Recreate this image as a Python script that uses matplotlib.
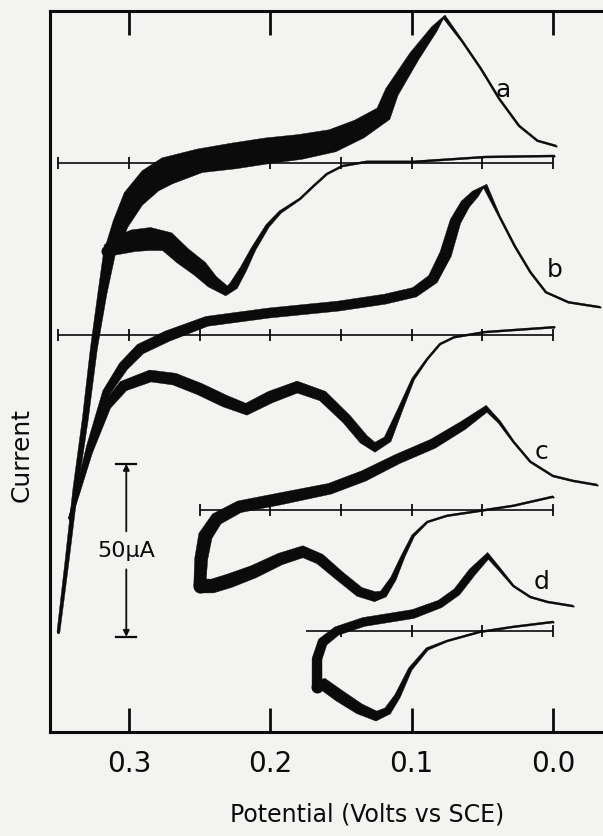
import numpy as np
import matplotlib.pyplot as plt
from matplotlib.patches import Polygon

# Cyclic voltammograms a-d.
# Potential in volts vs SCE, current in microamps relative to each trace's own zero line.

# trace a
a_fwd_E = [0.350, 0.344, 0.338, 0.331, 0.325, 0.319, 0.314, 0.306, 0.297, 0.285, 0.273, 0.250, 0.226, 0.202,
           0.179, 0.156, 0.137, 0.120, 0.114, 0.098, 0.084, 0.077, 0.064, 0.051, 0.038, 0.024, 0.011, -0.002]
a_fwd_I = [-135.5, -115.3, -94.2, -74.0, -53.8, -37.9, -26.3, -17.6, -10.4, -5.2, -2.3, 0.6, 2.0, 3.5,
           4.6, 6.4, 9.8, 14.2, 20.5, 30.9, 38.7, 42.2, 35.0, 27.2, 18.5, 10.7, 6.4, 4.9]
a_rev_E = [-0.001, 0.048, 0.099, 0.132, 0.149, 0.160, 0.170, 0.179, 0.193, 0.202, 0.212, 0.219, 0.226, 0.231,
           0.241, 0.250, 0.262, 0.273, 0.285, 0.297, 0.309, 0.316]
a_rev_I = [2.0, 1.7, 0.3, 0.3, -0.9, -3.2, -6.9, -10.4, -14.2, -18.2, -24.9, -30.6, -35.5, -37.0,
           -34.4, -30.6, -26.9, -22.8, -22.0, -22.5, -24.0, -25.4]

# trace b
b_fwd_E = [0.342, 0.337, 0.328, 0.316, 0.304, 0.292, 0.273, 0.245, 0.201, 0.152, 0.119, 0.098, 0.085, 0.076,
           0.069, 0.062, 0.055, 0.048, 0.038, 0.027, 0.016, 0.005, -0.011, -0.033]
b_fwd_I = [-53.2, -46.0, -32.1, -16.5, -9.0, -4.0, -0.3, 4.0, 6.4, 8.4, 10.4, 12.4, 16.2, 23.4,
           32.9, 37.9, 40.8, 43.1, 34.4, 25.7, 18.2, 12.4, 9.5, 8.1]
b_rev_E = [-0.001, 0.048, 0.070, 0.080, 0.089, 0.099, 0.108, 0.117, 0.126, 0.134, 0.146, 0.163, 0.181, 0.200,
           0.217, 0.232, 0.250, 0.268, 0.285, 0.304, 0.316, 0.328, 0.337, 0.342]
b_rev_I = [2.3, 0.9, -0.6, -2.6, -6.9, -12.7, -21.4, -30.1, -32.4, -30.1, -24.3, -17.6, -15.0, -17.9,
           -21.4, -19.1, -15.6, -12.7, -11.8, -14.7, -20.5, -33.8, -46.5, -53.2]

# trace c
c_fwd_E = [0.250, 0.249, 0.246, 0.238, 0.222, 0.193, 0.158, 0.134, 0.110, 0.085, 0.064, 0.047, 0.038, 0.028,
           0.016, 0.000, -0.014, -0.031]
c_fwd_I = [-22.0, -14.2, -7.5, -2.6, 0.9, 3.2, 6.1, 9.8, 14.7, 19.1, 24.3, 29.2, 25.4, 19.7,
           13.9, 9.8, 8.4, 7.2]
c_rev_E = [0.000, 0.028, 0.052, 0.075, 0.089, 0.099, 0.106, 0.113, 0.120, 0.126, 0.137, 0.151, 0.165, 0.177,
           0.193, 0.212, 0.229, 0.241, 0.250]
c_rev_I = [3.8, 1.2, -0.3, -1.7, -3.5, -7.5, -13.3, -19.9, -24.3, -25.1, -23.7, -19.1, -14.2, -12.1,
           -14.2, -17.9, -20.5, -22.0, -22.0]

# trace d
d_fwd_E = [0.167, 0.167, 0.163, 0.153, 0.134, 0.099, 0.080, 0.068, 0.057, 0.046, 0.038, 0.028, 0.016, 0.004, -0.014]
d_fwd_I = [-16.2, -8.1, -3.2, 0.0, 2.6, 4.9, 7.8, 11.3, 17.1, 21.7, 17.9, 13.0, 9.8, 8.4, 7.2]
d_rev_E = [0.000, 0.028, 0.052, 0.075, 0.089, 0.101, 0.110, 0.117, 0.125, 0.137, 0.151, 0.163, 0.167]
d_rev_I = [2.6, 1.2, -0.3, -2.9, -5.2, -11.0, -18.8, -23.1, -24.6, -22.5, -18.8, -15.3, -16.2]

labels = ['a', 'b', 'c', 'd']
zero_start = [0.35, 0.35, 0.25, 0.175]     # left end of each zero line (V)
xtick_vals = [0.3, 0.2, 0.1, 0.0]
xtick_text = ['0.3', '0.2', '0.1', '0.0']
scale_ua = 50

# ---- layout / style ----
INK = '#0b0b0b'
PAPER = '#f3f3f1'
offsets = [164.5, 114.7, 64.2, 29.2]         # where each zero line sits (uA from bottom)
label_pos = [(0.035, 185.8), (-0.001, 133.8), (0.008, 81.2), (0.008, 43.6)]

# pen widths in pixels (the traces are several overlapping sweeps)
a_fwd_w = [3, 4, 5, 6, 7, 9, 12, 16, 22, 26, 28, 24, 26, 26, 25, 23, 20, 17, 14, 11, 7, 4, 2, 2, 2, 2, 2, 2]
a_rev_w = [2, 2, 2, 2, 2, 2, 2, 2, 3, 4, 5, 7, 9, 10, 13, 17, 18, 20, 23, 22, 18, 12]
b_fwd_w = [3, 4, 6, 8, 10, 11, 11, 10, 10, 10, 10, 10, 11, 12, 11, 10, 8, 5, 2, 2, 2, 2, 2, 2]
b_rev_w = [2, 2, 2, 2, 2, 3, 5, 8, 10, 10, 10, 11, 12, 12, 12, 12, 12, 12, 12, 11, 9, 6, 4, 3]
c_fwd_w = [12, 13, 14, 13, 12, 12, 11, 11, 10, 10, 9, 7, 3, 2, 2, 2, 2, 2]
c_rev_w = [2, 2, 2, 2, 2, 3, 4, 6, 8, 10, 10, 10, 11, 12, 12, 13, 14, 14, 14]
d_fwd_w = [10, 10, 10, 9, 9, 9, 8, 8, 8, 7, 3, 2, 2, 2, 2]
d_rev_w = [2, 2, 2, 2, 3, 4, 6, 8, 10, 11, 12, 12, 12]

traces = [
    [(a_fwd_E, a_fwd_I, a_fwd_w), (a_rev_E, a_rev_I, a_rev_w)],
    [(b_fwd_E, b_fwd_I, b_fwd_w), (b_rev_E, b_rev_I, b_rev_w)],
    [(c_fwd_E, c_fwd_I, c_fwd_w), (c_rev_E, c_rev_I, c_rev_w)],
    [(d_fwd_E, d_fwd_I, d_fwd_w), (d_rev_E, d_rev_I, d_rev_w)],
]


def pen(ax, E, I, off, w_px):
    # a band of varying width around the trace, built in pixel space
    xy = ax.transData.transform(np.column_stack([np.asarray(E), np.asarray(I) + off]))
    d = np.gradient(xy, axis=0)
    n = np.column_stack([-d[:, 1], d[:, 0]])
    n /= np.linalg.norm(n, axis=1)[:, None]
    h = 0.5 * np.asarray(w_px, float)[:, None]
    outline = np.vstack([xy + n * h, (xy - n * h)[::-1]])
    ax.add_patch(Polygon(ax.transData.inverted().transform(outline), closed=True,
                         fc=INK, ec=INK, lw=0.3, joinstyle='round'))
    ax.plot(E, np.asarray(I) + off, color=INK, lw=1.0, solid_joinstyle='round')
    for k in (0, -1):
        ax.plot(E[k], I[k] + off, 'o', color=INK, ms=w_px[k] * 0.72, mew=0)


fig = plt.figure(figsize=(6.03, 8.37), dpi=100, facecolor=PAPER)
ax = fig.add_axes([50 / 603, 104 / 837, 553 / 603, 721 / 837])
ax.set_facecolor(PAPER)
ax.set_xlim(0.356, -0.0354)
ax.set_ylim(0, 208.4)

for sweeps, off in zip(traces, offsets):
    for E, I, w in sweeps:
        pen(ax, E, I, off, w)

# zero lines with 50 mV ticks
for start, off in zip(zero_start, offsets):
    ax.plot([start, 0.0], [off, off], color=INK, lw=1.2, solid_capstyle='butt')
    ticks = np.round(np.arange(0.0, start + 1e-6, 0.05), 3)
    ax.vlines(ticks, off - 1.8, off + 1.8, color=INK, lw=1.3)

for lab, (x, y) in zip(labels, label_pos):
    ax.text(x, y, lab, fontsize=18, color=INK, ha='center', va='center')

# 50 uA scale bar
bar_x = 0.302
bar_lo = 27.5
bar_hi = bar_lo + scale_ua
mid = 0.5 * (bar_lo + bar_hi)
arrow = dict(arrowstyle='-|>', lw=1.3, color=INK, mutation_scale=9, shrinkA=0, shrinkB=0)
ax.annotate('', xy=(bar_x, bar_hi), xytext=(bar_x, mid + 5.5), arrowprops=arrow)
ax.annotate('', xy=(bar_x, bar_lo), xytext=(bar_x, mid - 5.5), arrowprops=arrow)
for yy in (bar_lo, bar_hi):
    ax.plot([bar_x + 0.007, bar_x - 0.007], [yy, yy], color=INK, lw=1.6)
ax.text(bar_x, mid, '%dμA' % scale_ua, fontsize=16, color=INK, ha='center', va='center')

# frame
for side in ('left', 'top', 'bottom'):
    ax.spines[side].set_linewidth(2.2)
    ax.spines[side].set_color(INK)
ax.spines['right'].set_visible(False)
ax.set_yticks([])
ax.set_xticks(xtick_vals)
ax.set_xticklabels(xtick_text)
ax.tick_params(axis='x', direction='in', length=17, width=2.0, colors=INK, top=True,
               labelsize=20, pad=12)

fig.text(22 / 603, 1 - 455 / 837, 'Current', rotation=90, ha='center', va='center', fontsize=18, color=INK)
fig.text(367 / 603, 1 - 815 / 837, 'Potential (Volts vs SCE)', ha='center', va='center', fontsize=17, color=INK)

fig.savefig('out.png', dpi=100, facecolor=PAPER)
